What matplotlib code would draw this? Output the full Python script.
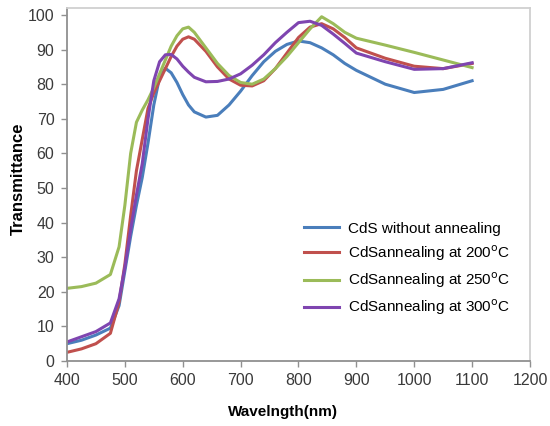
import matplotlib
matplotlib.use("Agg")
import matplotlib.pyplot as plt

plt.rcParams["font.family"] = ["Liberation Sans", "DejaVu Sans"]

wavelength = [400, 425, 450, 475, 490, 500, 510, 520, 530, 540, 550, 560, 570, 580,
              590, 600, 610, 620, 640, 660, 680, 700, 720, 740, 760, 780, 800, 820,
              840, 860, 880, 900, 950, 1000, 1050, 1100]

no_anneal = [5, 6, 7.5, 9.5, 16, 26, 36, 45, 53, 63, 74, 82, 84.6, 83.3,
             80.5, 77, 74, 72, 70.5, 71, 74, 78, 82.5, 86.5, 89.5, 91.5, 92.5, 92,
             90.5, 88.5, 86, 84, 80, 77.6, 78.5, 81]
anneal_200 = [2.5, 3.5, 5, 8, 17, 28, 42, 55, 64, 73, 77.5, 81, 84.5, 88,
              91, 93, 93.7, 93, 89.5, 85, 81.5, 79.7, 79.5, 81, 84.5, 89, 93.5, 96.5,
              97.5, 96, 93.5, 90.5, 87.5, 85.2, 84.5, 86]
anneal_250 = [21, 21.5, 22.5, 25, 33, 45, 60, 69, 72.5, 75.5, 79, 83, 87, 91,
              94, 96, 96.5, 95, 90.5, 86, 82.5, 80.5, 80, 81.5, 84.5, 88, 92, 96,
              99.5, 97.5, 95, 93.3, 91.3, 89.2, 87, 84.8]
anneal_300 = [5.5, 7, 8.5, 11, 18, 27, 38, 48, 57, 70, 81, 86.5, 88.5, 88.6,
              87.3, 85.2, 83.5, 82, 80.7, 80.8, 81.5, 83, 85.5, 88.5, 92, 95, 97.8, 98.2,
              97, 94.5, 91.8, 89, 86.5, 84.3, 84.5, 86.2]

labels = ["CdS without annealing",
          r"CdSannealing at 200$^\mathrm{o}$C",
          r"CdSannealing at 250$^\mathrm{o}$C",
          r"CdSannealing at 300$^\mathrm{o}$C"]
colors = ["#4a7ebb", "#c0504d", "#9bbb59", "#7f45b0"]

fig = plt.figure(figsize=(5.5, 4.26), dpi=100)
ax = fig.add_axes([0.1218, 0.1526, 0.8418, 0.8284])

for ys, lab, c in zip([no_anneal, anneal_200, anneal_250, anneal_300], labels, colors):
    ax.plot(wavelength, ys, color=c, lw=2.2, label=lab)

ax.set_xlim(400, 1200)
ax.set_ylim(0, 102)
ax.set_xticks(range(400, 1201, 100))
ax.set_yticks(range(0, 101, 10))
ax.tick_params(direction="out", length=4, width=1, color="#909090",
               labelsize=11.5, labelcolor="#3a3a3a", pad=5)

for side in ["left", "bottom"]:
    ax.spines[side].set_color("#909090")
    ax.spines[side].set_linewidth(1.3)
for side in ["top", "right"]:
    ax.spines[side].set_color("#d0d0d0")
    ax.spines[side].set_linewidth(1.3)

ax.set_xlabel("Wavelngth(nm)", fontsize=11, fontweight="bold")
ax.set_ylabel("Transmittance", fontsize=12, fontweight="bold")
ax.xaxis.set_label_coords(0.4665, -0.125)
ax.yaxis.set_label_coords(-0.088, 0.516)

ax.legend(loc="upper left", bbox_to_anchor=(0.482, 0.434), frameon=False,
          fontsize=11, handlelength=2.3, handletextpad=0.6, labelspacing=0.5)

fig.savefig("out.png", dpi=100)
